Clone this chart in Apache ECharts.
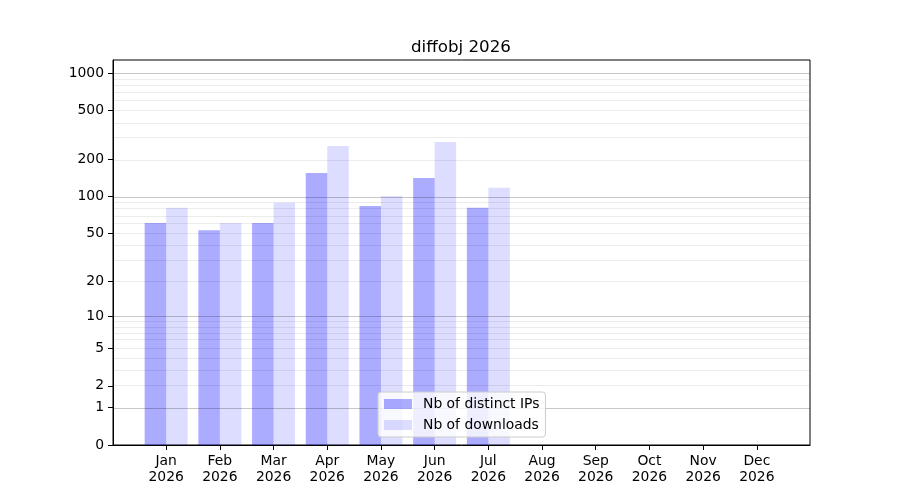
<!DOCTYPE html>
<html>
<head>
<meta charset="utf-8">
<script src="https://cdn.jsdelivr.net/npm/echarts@6/dist/echarts.min.js"></script>
<style>html,body{margin:0;padding:0;background:#fff}#c{width:900px;height:500px}</style>
</head>
<body>
<div id="c"></div>
<script>
var months = ['Jan','Feb','Mar','Apr','May','Jun','Jul','Aug','Sep','Oct','Nov','Dec'];
var year = '2026';
var distinctIPs = [61, 53, 61, 156, 84, 142, 81, 0, 0, 0, 0, 0];
var downloads = [81, 61, 89, 258, 101, 278, 118, 0, 0, 0, 0, 0];
var yTickValues = [0, 1, 2, 5, 10, 20, 50, 100, 200, 500, 1000];
var majorGrid = [1, 10, 100, 1000];
var minorGrid = [2,3,4,5,6,7,8,9,20,30,40,50,60,70,80,90,200,300,400,500,600,700,800,900];

function tf(v){ return Math.log10(v + 1); }
var FONT = 'DejaVu Sans';
var ipData = distinctIPs.map(function(v,i){ return [i + 1 - 0.2, tf(v)]; });
var dlData = downloads.map(function(v,i){ return [i + 1 + 0.2, tf(v)]; });
var gridLines = [];
minorGrid.forEach(function(v){ gridLines.push({yAxis: tf(v), lineStyle:{color:'rgba(0,0,0,0.075)', width:1, type:'solid'}}); });
majorGrid.forEach(function(v){ gridLines.push({yAxis: tf(v), lineStyle:{color:'rgba(0,0,0,0.22)', width:1, type:'solid'}}); });

var chart = echarts.init(document.getElementById('c'), null, {renderer:'canvas'});
chart.setOption({
  animation: false,
  backgroundColor: '#fff',
  title: {
    text: 'diffobj ' + year,
    left: 456, top: 34, textAlign: 'center',
    textStyle: {fontFamily: FONT, fontSize: 16.7, fontWeight: 'normal', color: '#000'}
  },
  grid: {left: 113, top: 60, width: 697, height: 385, show: true, borderColor: '#000', borderWidth: 1, backgroundColor: 'transparent'},
  legend: {
    orient: 'vertical', left: 378, top: 392, z: 10,
    itemWidth: 28, itemHeight: 10, itemGap: 7,
    padding: [5, 6, 5, 6],
    backgroundColor: 'rgba(255,255,255,0.8)',
    borderColor: '#cccccc', borderWidth: 1, borderRadius: 3,
    icon: 'rect',
    textStyle: {fontFamily: FONT, fontSize: 13.9, color: '#000', padding: [0,0,0,6]},
    data: ['Nb of distinct IPs', 'Nb of downloads']
  },
  xAxis: {
    type: 'value', min: 0.01, max: 12.99,
    splitLine: {show: false},
    axisLine: {show: true, lineStyle: {color: '#000'}},
    axisTick: {show: true, length: 5, lineStyle: {color: '#000'}, customValues: months.map(function(m,i){return i+1;})},
    axisLabel: {
      customValues: months.map(function(m,i){return i+1;}),
      margin: 8, color: '#000', fontFamily: FONT, fontSize: 13.9, lineHeight: 16,
      formatter: function(v){ var i = Math.round(v) - 1; return months[i] + '\n' + year; }
    }
  },
  yAxis: {
    type: 'value', min: 0, max: 3.107,
    splitLine: {show: false},
    axisLine: {show: true, lineStyle: {color: '#000'}},
    axisTick: {show: true, length: 5, lineStyle: {color: '#000'}, customValues: yTickValues.map(tf)},
    axisLabel: {
      customValues: yTickValues.map(tf),
      margin: 9, color: '#000', fontFamily: FONT, fontSize: 13.9,
      formatter: function(v){ return String(Math.round(Math.pow(10, v) - 1)); }
    }
  },
  series: [
    {
      name: 'Nb of distinct IPs', type: 'bar', data: ipData, z: 2,
      barWidth: 21.5, barGap: '-100%',
      itemStyle: {color: 'rgba(0,0,255,0.33)'}
    },
    {
      name: 'Nb of downloads', type: 'bar', data: dlData, z: 2,
      barWidth: 21.5, barGap: '-100%',
      itemStyle: {color: 'rgba(0,0,255,0.135)'}
    },
    {
      name: 'grid', type: 'line', data: [], z: 3, silent: true,
      markLine: {silent: true, z: 3, symbol: ['none','none'], label: {show: false}, animation: false, data: gridLines}
    }
  ]
});
</script>
</body>
</html>
